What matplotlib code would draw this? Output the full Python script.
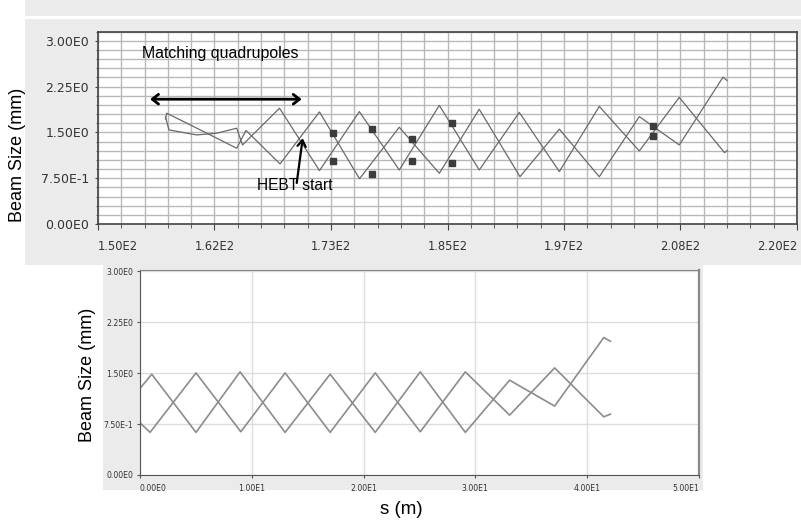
import numpy as np
import matplotlib.pyplot as plt
from matplotlib.patches import Rectangle
from matplotlib.ticker import FixedLocator

# top panel: beam envelope through matching section + HEBT (s in m, size in mm)
top_s_a = [156.76, 156.88, 159.21, 163.89, 164.82, 168.23, 172.18, 176.19, 180.17, 184.18,
           188.18, 192.26, 196.20, 200.20, 204.21, 208.21, 212.59, 212.99]
top_a = [1.72, 1.815, 1.626, 1.241, 1.533, 0.984, 1.836, 0.741, 1.585, 0.831,
         1.880, 0.775, 1.554, 0.774, 1.759, 1.295, 2.405, 2.352]

top_s_b = [156.76, 157.11, 159.88, 161.89, 163.89, 164.47, 168.18, 172.18, 176.17, 180.17,
           184.18, 188.18, 192.19, 196.20, 200.20, 204.21, 208.21, 212.74, 213.04]
top_b = [1.754, 1.541, 1.459, 1.487, 1.569, 1.295, 1.897, 0.875, 1.841, 0.885,
         1.943, 0.885, 1.828, 0.859, 1.926, 1.197, 2.074, 1.169, 1.205]

# measured points (squares)
quad_s = [173.50, 173.50, 177.47, 177.47, 181.44, 181.44, 185.45, 185.45, 205.53, 205.53]
quad_size = [1.484, 1.036, 1.552, 0.816, 1.389, 1.033, 1.648, 1.000, 1.607, 1.443]

# bottom panel: HEBT alone
bot_s_c = [0, 1.05, 5.01, 8.95, 12.98, 17.01, 21.04, 25.07, 29.10, 33.06, 37.09, 41.48, 42.08]
bot_c = [1.275, 1.485, 0.628, 1.519, 0.628, 1.485, 0.628, 1.519, 0.628, 1.397, 1.015, 2.025, 1.97]
bot_s_d = [0, 0.90, 5.01, 9.02, 12.98, 17.01, 21.04, 25.07, 29.10, 33.06, 37.09, 41.48, 42.08]
bot_d = [0.769, 0.628, 1.504, 0.637, 1.504, 0.628, 1.504, 0.637, 1.519, 0.882, 1.578, 0.857, 0.897]

top_xticks = np.linspace(150, 220, 7)
bot_xticks = [0, 10, 20, 30, 40, 50]
yticks = [0, 0.75, 1.5, 2.25, 3.0]


def sci(v):
    m, e = f"{v:.2E}".split("E")
    return f"{m}E{int(e)}"


W, H = 801, 522
fig = plt.figure(figsize=(W / 100, H / 100), dpi=100)


def box(x0, y0, x1, y1):
    return [x0 / W, 1 - y1 / H, (x1 - x0) / W, (y1 - y0) / H]


def rect(x0, y0, x1, y1, color):
    b = box(x0, y0, x1, y1)
    fig.patches.append(Rectangle((b[0], b[1]), b[2], b[3], transform=fig.transFigure,
                                 color=color, lw=0, zorder=-1))


rect(25, 0, 801, 265, '#ebebeb')
rect(25, 16.5, 801, 18.5, 'white')
rect(103, 265, 703, 490, '#ebebeb')

# ---- top chart
ax1 = fig.add_axes(box(98, 31.7, 797, 224))
ax1.plot(top_s_a, top_a, color='#6a6a6a', lw=0.9)
ax1.plot(top_s_b, top_b, color='#6a6a6a', lw=0.9)
ax1.plot(quad_s, quad_size, 's', color='#3c3c3c', ms=3.8, ls='none')
ax1.set_xlim(150, 220)
ax1.set_ylim(0, 3.15)
ax1.set_xticks(top_xticks, [sci(v) for v in top_xticks])
ax1.set_yticks(yticks, [sci(v) for v in yticks])
ax1.xaxis.set_minor_locator(FixedLocator(np.linspace(150, 220, 31)))
ax1.yaxis.set_minor_locator(FixedLocator(np.linspace(0, 3.15, 22)))
ax1.grid(which='both', color='#b8b8b8', lw=1.0)
ax1.set_axisbelow(True)
ax1.tick_params(axis='x', which='major', length=4.3, pad=7, labelsize=8.3,
                labelcolor='#333333', color='#444444')
ax1.tick_params(axis='x', which='minor', length=2.7, color='#444444')
ax1.tick_params(axis='y', which='major', length=2.5, pad=4, labelsize=9,
                labelcolor='#333333', color='#444444')
ax1.tick_params(axis='y', which='minor', length=1.5, color='#444444')
for sp in ax1.spines.values():
    sp.set_color('#444444')
    sp.set_linewidth(1.2)
xl = ax1.get_xticklabels()
xl[0].set_ha('left')
xl[-1].set_ha('right')

ax1.text(154.37, 2.798, 'Matching quadrupoles', fontsize=11.4, family='Liberation Sans',
         va='center', ha='left')
ax1.annotate('', xy=(155.21, 2.044), xytext=(170.40, 2.044),
             arrowprops=dict(arrowstyle='<->, head_length=0.45, head_width=0.35',
                             color='black', lw=2, shrinkA=0, shrinkB=0))
ax1.text(165.89, 0.623, 'HEBT start', fontsize=11.2, family='Liberation Sans',
         va='center', ha='left')
ax1.annotate('', xy=(170.50, 1.405), xytext=(169.90, 0.672),
             arrowprops=dict(arrowstyle='->, head_length=0.45, head_width=0.3',
                             color='black', lw=1.6, shrinkA=0, shrinkB=0))

# ---- bottom chart
ax2 = fig.add_axes(box(140, 270, 699, 475))
ax2.plot(bot_s_c, bot_c, color='#8c8c8c', lw=1.2)
ax2.plot(bot_s_d, bot_d, color='#8c8c8c', lw=1.2)
ax2.set_xlim(0, 50)
ax2.set_ylim(0, 3.02)
ax2.set_xticks(bot_xticks, [sci(v) for v in bot_xticks])
ax2.set_yticks(yticks, [sci(v) for v in yticks])
ax2.grid(color='#dddddd', lw=1.0)
ax2.set_axisbelow(True)
ax2.tick_params(length=2, width=0.8, pad=3, labelsize=5.6, labelcolor='#333333',
                color='#555555')
ax2.tick_params(axis='x', pad=4.5)
for sp in ax2.spines.values():
    sp.set_color('#888888')
ax2.spines['left'].set_color('#555555')
ax2.spines['bottom'].set_color('#555555')
ax2.spines['right'].set_linewidth(1.6)
xl = ax2.get_xticklabels()
xl[0].set_ha('left')
xl[-1].set_ha('right')

# axis titles
fig.text(17.5 / W, 1 - 155 / H, 'Beam Size (mm)', rotation=90, fontsize=13,
         family='Liberation Sans', ha='center', va='center')
fig.text(88 / W, 1 - 375 / H, 'Beam Size (mm)', rotation=90, fontsize=13,
         family='Liberation Sans', ha='center', va='center')
fig.text(401 / W, 1 - 509 / H, 's (m)', fontsize=13.5, family='Liberation Sans',
         ha='center', va='center')

plt.savefig('out.png', dpi=100)
